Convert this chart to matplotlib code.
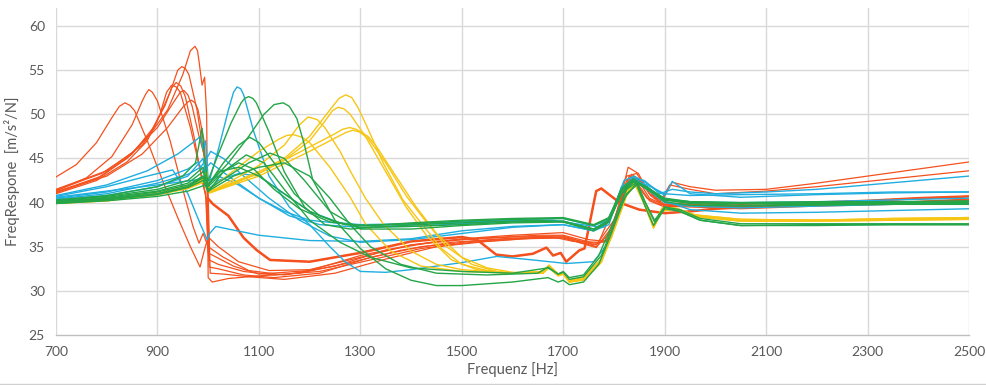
import matplotlib
matplotlib.use("Agg")
import matplotlib.pyplot as plt
from matplotlib.lines import Line2D

plt.rcParams['font.family'] = ['Lato', 'DejaVu Sans']

# ---------------- data ----------------
x_ticks = [700, 900, 1100, 1300, 1500, 1700, 1900, 2100, 2300, 2500]
y_ticks = [25, 30, 35, 40, 45, 50, 55, 60]

red_freqs = [
    [700, 740, 780, 810, 825, 836, 846, 855, 880, 910, 940, 965, 984, 992, 1000, 1020, 1060, 1120, 1200, 1300, 1400, 1500, 1600, 1700, 1750, 1785, 1810, 1830, 1850, 1870, 1895, 1915, 1950, 2000, 2100, 2200, 2300, 2400, 2500],
    [700, 760, 810, 850, 870, 877, 883, 890, 900, 925, 950, 970, 982, 990, 1000, 1030, 1080, 1150, 1250, 1350, 1450, 1550, 1650, 1700, 1760, 1790, 1815, 1835, 1860, 1890, 1910, 1950, 2000, 2100, 2200, 2300, 2400, 2500],
    [700, 780, 840, 880, 905, 918, 928, 937, 945, 965, 985, 995, 1000, 1010, 1050, 1100, 1200, 1300, 1400, 1500, 1600, 1700, 1760, 1795, 1820, 1840, 1865, 1890, 1950, 2050, 2200, 2350, 2500],
    [700, 780, 840, 885, 915, 928, 937, 946, 955, 972, 988, 996, 1002, 1020, 1070, 1130, 1220, 1320, 1420, 1520, 1620, 1700, 1765, 1800, 1825, 1845, 1870, 1900, 1950, 2050, 2200, 2350, 2500],
    [700, 790, 850, 895, 925, 940, 948, 955, 962, 978, 990, 998, 1002, 1020, 1070, 1130, 1220, 1320, 1420, 1520, 1620, 1700, 1765, 1800, 1828, 1848, 1872, 1900, 1950, 2050, 2200, 2350, 2500],
    [700, 790, 850, 900, 930, 945, 952, 960, 968, 982, 994, 999, 1004, 1030, 1080, 1150, 1250, 1350, 1450, 1550, 1650, 1700, 1765, 1800, 1825, 1845, 1870, 1900, 1950, 2050, 2200, 2350, 2500],
    [700, 800, 870, 920, 950, 960, 967, 974, 980, 992, 999, 1010, 1040, 1070, 1096, 1122, 1200, 1300, 1400, 1500, 1530, 1568, 1600, 1640, 1667, 1680, 1695, 1706, 1732, 1742, 1765, 1775, 1811, 1850, 1900, 1950, 2000, 2100, 2200, 2300, 2400, 2500],
    [700, 800, 870, 920, 950, 965, 974, 979, 982, 988, 993, 997, 1000, 1008, 1040, 1100, 1180, 1280, 1380, 1480, 1580, 1680, 1720, 1770, 1800, 1825, 1845, 1870, 1900, 1950, 2050, 2200, 2350, 2500],
]
red_vals = [
    [42.9, 44.3, 46.8, 49.6, 50.9, 51.3, 51.0, 50.4, 47.0, 42.5, 38.3, 35.0, 32.7, 34.5, 36.1, 35.0, 33.3, 32.3, 32.4, 33.8, 35.2, 35.9, 36.3, 36.6, 35.8, 35.6, 39.5, 43.0, 42.6, 41.0, 40.2, 42.3, 41.8, 41.4, 41.5, 42.2, 43.0, 43.8, 44.6],
    [41.3, 42.8, 45.2, 48.8, 51.5, 52.3, 52.8, 52.5, 51.5, 47.0, 41.5, 37.3, 35.4, 36.5, 35.0, 33.8, 32.3, 31.8, 32.8, 34.6, 35.6, 36.0, 36.3, 36.3, 35.4, 35.6, 40.5, 43.2, 42.0, 40.0, 42.0, 41.5, 41.0, 41.3, 41.8, 42.4, 43.0, 43.6],
    [41.0, 42.5, 44.6, 47.0, 50.0, 52.5, 53.3, 53.1, 52.5, 48.5, 43.5, 41.0, 34.3, 34.0, 32.8, 31.9, 32.3, 34.0, 35.2, 35.8, 36.1, 36.2, 35.2, 36.0, 41.5, 42.5, 40.5, 39.8, 40.0, 39.8, 40.0, 40.3, 40.7],
    [41.1, 42.7, 45.0, 47.8, 51.0, 53.0, 53.6, 53.2, 52.0, 47.5, 42.5, 40.5, 32.7, 32.5, 31.8, 31.5, 32.0, 33.8, 35.0, 35.6, 36.0, 36.0, 35.0, 37.0, 42.0, 42.3, 40.2, 39.5, 39.7, 39.6, 39.8, 40.0, 40.3],
    [41.2, 43.0, 45.5, 48.7, 52.5, 55.0, 55.4, 55.2, 54.5, 50.5, 46.0, 43.0, 33.5, 33.0, 32.2, 31.8, 32.2, 33.5, 34.8, 35.5, 35.9, 36.0, 34.9, 37.5, 44.0, 43.3, 40.8, 39.6, 39.5, 39.3, 39.6, 39.8, 40.1],
    [41.4, 43.3, 45.6, 48.5, 51.2, 52.5, 52.7, 52.2, 51.0, 47.5, 45.0, 43.0, 32.0, 31.9, 31.6, 31.3, 32.0, 33.6, 35.0, 35.6, 36.0, 36.1, 35.2, 38.0, 42.5, 42.8, 40.5, 39.7, 39.6, 39.5, 39.7, 40.0, 40.3],
    [41.2, 43.0, 45.5, 48.5, 50.8, 51.4, 51.6, 51.3, 50.5, 47.0, 40.5, 39.8, 38.5, 36.0, 34.6, 33.5, 33.3, 34.3, 35.6, 36.1, 35.8, 34.1, 33.9, 34.2, 34.9, 34.0, 34.3, 33.3, 34.6, 34.8, 41.3, 41.6, 40.0, 39.2, 38.8, 39.0, 39.3, 39.6, 40.0, 40.2, 40.5, 40.7],
    [41.5, 43.6, 46.5, 50.5, 54.5, 57.2, 57.7, 57.2, 56.0, 53.3, 54.2, 50.0, 31.5, 31.0, 31.4, 31.7, 32.0, 33.2, 34.6, 35.5, 35.9, 36.1, 35.6, 35.5, 39.5, 43.0, 43.3, 41.0, 39.8, 39.8, 39.6, 39.8, 40.0, 40.4],
]
# index of the red curve drawn as the thick, noisy trace after the 1000 Hz jump
thick_red = 6
thick_from_hz = 999

blue_freqs = [
    [700, 800, 900, 980, 995, 1000, 1020, 1040, 1050, 1057, 1064, 1070, 1090, 1120, 1160, 1200, 1240, 1270, 1300, 1350, 1400, 1450, 1500, 1569, 1640, 1706, 1760, 1790, 1815, 1835, 1860, 1890, 1915, 1950, 2000, 2100, 2200, 2300, 2400, 2500],
    [700, 800, 880, 940, 970, 985, 990, 995, 1000, 1020, 1060, 1100, 1150, 1200, 1300, 1400, 1500, 1600, 1680, 1700, 1750, 1780, 1800, 1820, 1840, 1870, 1900, 1915, 1950, 2050, 2200, 2350, 2500],
    [700, 800, 900, 960, 980, 990, 997, 1005, 1040, 1100, 1160, 1220, 1300, 1400, 1500, 1600, 1700, 1760, 1790, 1815, 1838, 1865, 1900, 1950, 2050, 2200, 2350, 2500],
    [700, 800, 880, 930, 960, 985, 998, 1003, 1015, 1040, 1100, 1200, 1300, 1400, 1500, 1600, 1700, 1760, 1790, 1815, 1838, 1865, 1900, 1950, 2050, 2200, 2350, 2500],
    [700, 800, 900, 960, 985, 995, 1005, 1030, 1070, 1120, 1180, 1240, 1300, 1400, 1500, 1600, 1700, 1760, 1790, 1815, 1838, 1865, 1900, 1950, 2050, 2200, 2350, 2500],
    [700, 800, 900, 960, 990, 1000, 1020, 1060, 1100, 1150, 1200, 1260, 1300, 1400, 1500, 1600, 1700, 1760, 1790, 1815, 1838, 1865, 1900, 1950, 2050, 2200, 2350, 2500],
]
blue_vals = [
    [40.6, 41.3, 42.0, 42.6, 43.0, 42.0, 46.0, 50.5, 52.5, 53.1, 52.9, 52.2, 48.0, 43.0, 39.5, 37.5, 35.0, 33.3, 32.2, 32.1, 32.4, 32.8, 33.2, 33.9, 33.5, 33.1, 33.3, 35.5, 40.0, 42.8, 42.5, 41.0, 41.5, 41.2, 41.0, 41.2, 41.5, 42.0, 42.5, 43.0],
    [40.8, 42.0, 43.6, 45.5, 46.8, 47.5, 46.0, 47.0, 42.5, 43.0, 42.0, 40.5, 39.0, 38.0, 37.4, 37.5, 37.7, 38.0, 38.0, 37.8, 37.4, 37.2, 39.5, 42.5, 43.0, 42.0, 40.8, 42.4, 41.0, 40.6, 40.9, 41.1, 41.2],
    [40.5, 41.2, 42.5, 43.8, 44.6, 43.5, 44.0, 44.5, 43.0, 40.5, 38.5, 37.5, 37.2, 37.3, 37.6, 37.9, 37.9, 37.0, 38.0, 41.5, 42.8, 41.8, 40.3, 40.1, 40.0, 40.1, 40.3, 40.5],
    [40.7, 41.8, 43.0, 43.7, 41.0, 37.5, 35.8, 36.5, 37.3, 37.0, 36.3, 35.7, 35.6, 35.9, 36.8, 37.3, 37.5, 36.8, 37.5, 41.8, 42.5, 41.5, 40.0, 39.6, 39.4, 39.6, 39.8, 40.0],
    [40.4, 41.0, 42.2, 43.2, 44.0, 44.8, 45.8, 45.0, 43.0, 40.5, 38.0, 36.2, 35.5, 35.8, 36.5, 37.2, 37.5, 36.8, 37.8, 41.5, 42.8, 41.8, 40.2, 39.2, 38.8, 38.9, 39.1, 39.3],
    [40.3, 40.8, 41.8, 43.0, 45.0, 41.5, 42.5, 43.3, 43.0, 41.0, 39.0, 37.7, 37.5, 37.6, 37.8, 38.1, 38.2, 37.4, 38.0, 41.0, 42.5, 42.0, 41.0, 40.8, 40.9, 41.0, 41.2, 41.2],
]

green_freqs = [
    [700, 800, 900, 960, 990, 1000, 1020, 1045, 1065, 1072, 1080, 1088, 1095, 1120, 1150, 1190, 1230, 1280, 1350, 1450, 1550, 1650, 1700, 1760, 1790, 1815, 1838, 1865, 1900, 1950, 2050, 2200, 2350, 2500],
    [700, 800, 900, 960, 990, 1000, 1040, 1080, 1110, 1130, 1148, 1160, 1175, 1190, 1206, 1250, 1300, 1350, 1400, 1450, 1500, 1600, 1670, 1690, 1700, 1712, 1740, 1770, 1795, 1820, 1845, 1862, 1880, 1900, 1930, 1970, 2050, 2200, 2350, 2500],
    [700, 800, 900, 960, 990, 1000, 1030, 1060, 1082, 1100, 1130, 1170, 1220, 1270, 1320, 1400, 1500, 1600, 1700, 1760, 1790, 1815, 1838, 1865, 1900, 1950, 2050, 2200, 2350, 2500],
    [700, 800, 900, 960, 990, 1000, 1040, 1080, 1122, 1150, 1190, 1240, 1300, 1400, 1500, 1600, 1700, 1760, 1790, 1815, 1838, 1865, 1900, 1950, 2050, 2200, 2350, 2500],
    [700, 800, 900, 960, 990, 1000, 1030, 1075, 1110, 1150, 1200, 1260, 1320, 1400, 1500, 1600, 1670, 1690, 1700, 1712, 1740, 1770, 1800, 1825, 1845, 1862, 1880, 1900, 1930, 1970, 2050, 2200, 2350, 2500],
    [700, 800, 900, 960, 990, 1000, 1030, 1060, 1090, 1130, 1180, 1240, 1300, 1400, 1500, 1600, 1700, 1760, 1790, 1815, 1838, 1865, 1900, 1950, 2050, 2200, 2350, 2500],
    [700, 800, 900, 950, 975, 988, 993, 1000, 1020, 1060, 1100, 1150, 1200, 1250, 1300, 1400, 1500, 1600, 1700, 1760, 1790, 1815, 1838, 1865, 1900, 1950, 2050, 2200, 2350, 2500],
    [700, 800, 900, 960, 995, 1000, 1050, 1100, 1150, 1200, 1240, 1280, 1320, 1380, 1450, 1550, 1650, 1670, 1690, 1700, 1712, 1740, 1775, 1800, 1825, 1845, 1862, 1878, 1900, 1930, 1970, 2050, 2200, 2350, 2500],
]
green_vals = [
    [40.0, 40.4, 41.0, 41.8, 43.0, 42.5, 45.5, 49.0, 51.3, 51.8, 52.0, 51.8, 51.3, 48.0, 43.5, 39.5, 37.5, 37.0, 37.3, 37.6, 37.8, 38.0, 37.8, 37.0, 38.0, 41.0, 42.3, 41.8, 40.3, 39.9, 39.7, 39.8, 39.8, 39.8],
    [40.1, 40.5, 41.2, 42.0, 43.0, 42.0, 44.5, 47.5, 50.0, 51.1, 51.3, 50.9, 49.5, 46.5, 42.6, 38.0, 34.8, 32.5, 31.2, 30.6, 30.6, 31.0, 31.5, 31.0, 31.2, 30.7, 31.0, 33.0, 36.5, 40.5, 42.2, 40.0, 38.0, 39.5, 39.0, 38.0, 37.4, 37.5, 37.5, 37.5],
    [40.2, 40.7, 41.5, 42.5, 44.0, 42.0, 44.5, 46.5, 47.4, 46.8, 44.5, 41.0, 38.5, 37.5, 37.4, 37.7, 38.0, 38.2, 38.3, 37.5, 38.3, 41.5, 42.6, 41.5, 40.3, 40.0, 39.9, 40.0, 40.0, 40.1],
    [40.0, 40.4, 41.0, 41.8, 42.8, 41.5, 43.0, 44.5, 45.6, 45.0, 42.5, 39.0, 37.0, 37.0, 37.4, 37.7, 37.8, 36.8, 37.8, 41.3, 42.4, 41.6, 40.1, 39.7, 39.6, 39.7, 39.8, 39.9],
    [39.9, 40.3, 40.9, 41.7, 42.5, 41.2, 43.5, 45.4, 44.5, 41.5, 38.0, 35.5, 33.8, 32.6, 32.2, 32.0, 32.6, 31.9, 32.2, 31.5, 31.8, 34.0, 38.0, 41.5, 42.3, 40.0, 37.8, 39.5, 39.2, 38.2, 37.6, 37.6, 37.6, 37.6],
    [40.1, 40.6, 41.3, 42.2, 43.5, 41.8, 43.5, 44.5, 43.8, 41.5, 39.3, 37.8, 37.4, 37.6, 37.9, 38.1, 38.2, 37.4, 38.2, 41.6, 42.7, 41.7, 40.4, 40.1, 39.9, 39.9, 39.9, 40.0],
    [40.3, 40.8, 41.8, 43.0, 44.5, 48.4, 45.0, 42.0, 43.5, 44.0, 43.0, 41.0, 39.0, 37.8, 37.2, 37.3, 37.5, 37.8, 37.9, 37.0, 37.8, 41.0, 42.4, 41.7, 40.5, 40.1, 40.0, 40.1, 40.1, 40.2],
    [39.9, 40.2, 40.7, 41.3, 42.0, 41.3, 43.0, 44.0, 44.5, 43.0, 40.5, 37.5, 35.0, 33.0, 32.0, 31.8, 32.0, 32.7, 31.9, 32.1, 31.3, 31.6, 34.0, 37.5, 41.0, 42.0, 39.5, 37.4, 39.3, 39.0, 38.0, 37.4, 37.4, 37.5, 37.5],
]

yellow_freqs = [
    [700, 800, 900, 960, 990, 997, 1003, 1050, 1100, 1150, 1180, 1197, 1215, 1230, 1260, 1279, 1310, 1345, 1400, 1450, 1500, 1600, 1660, 1672, 1690, 1700, 1712, 1740, 1775, 1800, 1825, 1842, 1860, 1878, 1895, 1920, 1960, 2050, 2200, 2350, 2500],
    [700, 800, 900, 960, 990, 997, 1003, 1100, 1150, 1200, 1240, 1258, 1271, 1283, 1295, 1310, 1345, 1384, 1421, 1460, 1500, 1550, 1600, 1660, 1672, 1690, 1700, 1712, 1740, 1775, 1800, 1825, 1842, 1860, 1878, 1895, 1920, 1960, 2050, 2200, 2350, 2500],
    [700, 800, 900, 960, 990, 997, 1003, 1100, 1150, 1200, 1230, 1245, 1256, 1268, 1280, 1310, 1350, 1390, 1430, 1480, 1530, 1600, 1660, 1672, 1690, 1700, 1712, 1740, 1775, 1800, 1825, 1842, 1860, 1878, 1895, 1920, 1960, 2050, 2200, 2350, 2500],
    [700, 800, 900, 960, 990, 997, 1003, 1100, 1200, 1250, 1265, 1279, 1292, 1315, 1330, 1370, 1410, 1450, 1500, 1550, 1600, 1660, 1672, 1690, 1700, 1712, 1740, 1775, 1800, 1825, 1842, 1860, 1878, 1895, 1920, 1960, 2050, 2200, 2350, 2500],
    [700, 800, 900, 960, 990, 997, 1003, 1100, 1200, 1250, 1270, 1285, 1298, 1315, 1350, 1390, 1430, 1470, 1520, 1580, 1660, 1672, 1690, 1700, 1712, 1740, 1775, 1800, 1825, 1842, 1860, 1878, 1895, 1920, 1960, 2050, 2200, 2350, 2500],
    [700, 800, 900, 960, 990, 997, 1003, 1050, 1100, 1140, 1155, 1168, 1185, 1200, 1240, 1279, 1310, 1360, 1420, 1500, 1600, 1660, 1672, 1690, 1700, 1712, 1740, 1775, 1800, 1825, 1842, 1860, 1878, 1895, 1920, 1960, 2050, 2200, 2350, 2500],
]
yellow_vals = [
    [39.9, 40.3, 41.0, 41.7, 42.5, 43.2, 41.2, 42.6, 44.2, 46.5, 48.8, 49.7, 49.4, 48.5, 45.8, 43.7, 40.5, 37.6, 34.5, 33.0, 32.4, 32.0, 32.1, 32.8, 31.8, 32.0, 31.0, 31.3, 33.5, 37.0, 41.0, 42.2, 40.0, 37.2, 39.3, 39.4, 38.5, 38.0, 38.0, 38.1, 38.2],
    [40.0, 40.4, 41.1, 41.8, 42.6, 43.5, 41.2, 43.5, 45.0, 47.5, 50.5, 51.8, 52.2, 51.9, 50.8, 49.0, 44.5, 40.3, 37.6, 34.8, 33.0, 32.3, 32.0, 32.0, 32.7, 31.7, 31.9, 31.0, 31.2, 33.2, 36.8, 40.8, 42.0, 39.8, 37.1, 39.0, 39.3, 38.4, 37.9, 37.9, 38.0, 38.1],
    [40.0, 40.3, 41.0, 41.7, 42.4, 43.0, 41.3, 43.3, 44.8, 47.0, 49.2, 50.4, 50.8, 50.6, 50.0, 47.5, 43.5, 39.5, 36.3, 33.5, 32.4, 32.0, 32.2, 32.9, 31.9, 32.1, 31.2, 31.5, 33.6, 37.2, 41.2, 42.3, 40.1, 37.4, 39.4, 39.4, 38.6, 38.1, 38.0, 38.2, 38.3],
    [39.9, 40.2, 40.9, 41.6, 42.3, 42.8, 41.1, 43.3, 46.3, 47.8, 48.3, 48.5, 48.3, 47.5, 46.5, 43.0, 39.5, 36.5, 33.8, 32.6, 32.1, 32.0, 32.7, 31.8, 32.0, 31.1, 31.4, 33.4, 37.0, 41.0, 42.1, 39.9, 37.3, 39.2, 39.3, 38.5, 38.0, 38.0, 38.1, 38.2],
    [39.9, 40.2, 40.9, 41.6, 42.3, 42.9, 41.1, 43.0, 45.8, 47.3, 47.9, 48.2, 48.0, 47.3, 44.5, 40.8, 37.8, 35.0, 33.0, 32.0, 32.0, 32.6, 31.7, 31.9, 31.0, 31.3, 33.3, 36.9, 40.9, 42.0, 39.8, 37.2, 39.1, 39.2, 38.4, 37.9, 37.9, 38.0, 38.1],
    [40.0, 40.4, 41.1, 41.9, 42.8, 43.3, 41.5, 43.6, 45.8, 47.2, 47.6, 47.7, 47.4, 46.8, 44.0, 40.7, 37.6, 34.5, 32.8, 32.2, 32.0, 32.2, 32.9, 31.9, 32.1, 31.2, 31.5, 33.6, 37.2, 41.2, 42.3, 40.0, 37.4, 39.3, 39.4, 38.6, 38.1, 38.0, 38.2, 38.3],
]

# ---------------- styling ----------------
RED = '#F4511E'
BLUE = '#1FAEDF'
GREEN = '#24A548'
YELLOW = '#F7C614'
TXT = '#595959'
GRID = '#D9D9D9'

W, H = 987, 385
fig = plt.figure(figsize=(W / 100, H / 100), dpi=100)
ax = fig.add_axes([56 / W, 1 - 335 / H, (969 - 56) / W, (335 - 8) / H])

for i, (fs, vs) in enumerate(zip(red_freqs, red_vals)):
    ax.plot(fs, vs, color=RED, lw=0.9, zorder=3)
    if i == thick_red:
        k = next(j for j, f in enumerate(fs) if f >= thick_from_hz)
        ax.plot(fs[k:], vs[k:], color=RED, lw=1.8, zorder=3)
for fs, vs in zip(blue_freqs, blue_vals):
    ax.plot(fs, vs, color=BLUE, lw=1.0, zorder=3)
for fs, vs in zip(yellow_freqs, yellow_vals):
    ax.plot(fs, vs, color=YELLOW, lw=1.0, zorder=3)
for fs, vs in zip(green_freqs, green_vals):
    ax.plot(fs, vs, color=GREEN, lw=1.0, zorder=3)

ax.set_xlim(700, 2500)
ax.set_ylim(25, 62.04)
ax.set_xticks(x_ticks)
ax.set_yticks(y_ticks)
ax.tick_params(length=0, labelsize=10, labelcolor=TXT)
ax.tick_params(axis='y', pad=8)
ax.tick_params(axis='x', pad=8)
for s in ['top', 'right', 'left']:
    ax.spines[s].set_visible(False)
ax.spines['bottom'].set_color('#BFBFBF')
ax.spines['bottom'].set_linewidth(1.0)

# grid lines
for yv in y_ticks[1:]:
    ax.axhline(yv, color=GRID, lw=1.0, zorder=1)
for xv in x_ticks:
    ax.axvline(xv, color=GRID, lw=1.0, zorder=1)

ax.set_xlabel('Frequenz [Hz]', fontsize=10.5, color=TXT, labelpad=3)
ax.set_ylabel('FreqRespone  [m/s²/N]', fontsize=10.5, color=TXT, labelpad=6)

fig.add_artist(Line2D([0, 1], [1.5 / H, 1.5 / H], color='#D0D0D0', lw=1.0))

fig.savefig('out.png', dpi=100)
